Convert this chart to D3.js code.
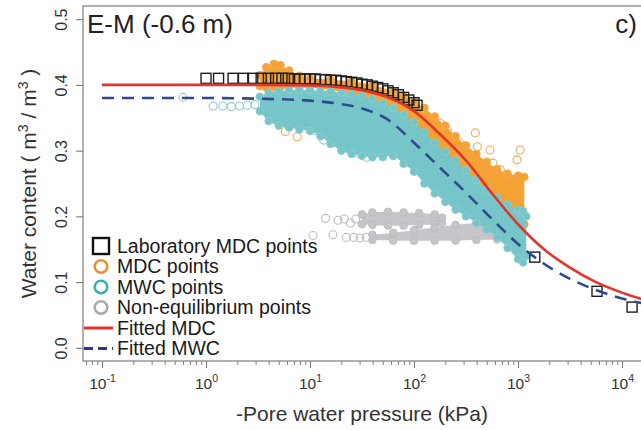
<!DOCTYPE html>
<html>
<head>
<meta charset="utf-8">
<script src="https://cdn.jsdelivr.net/npm/d3@7"></script>
<style>
  body { margin: 0; background: #fff; }
  text { font-family: "Liberation Sans", Arial, Helvetica, sans-serif; fill: #1a1a1a; }
</style>
</head>
<body>
<svg id="chart" width="641" height="430"></svg>
<script>
// ---- axis ticks ----
const pressureMajorTicks = [0.1, 1, 10, 100, 1000, 10000];
const thetaTicks = [0.0, 0.1, 0.2, 0.3, 0.4, 0.5];
const thetaTickLabels = ["0.0", "0.1", "0.2", "0.3", "0.4", "0.5"];

// ---- laboratory MDC points (kPa, m3/m3) ----
const labPressure = [1.0, 1.32, 1.82, 2.29, 2.82, 3.39, 3.98, 4.68, 5.37, 6.17, 7.08, 7.94, 8.91, 10, 11.2, 12.6, 14.1, 15.8, 17.8, 20, 22.4, 25.1, 28.2, 31.6, 35.5, 39.8, 44.7, 50.1, 56.2, 63.1, 70.8, 79.4, 89.1, 100, 107, 1450, 5750, 12500];
const labTheta = [0.410, 0.410, 0.410, 0.410, 0.410, 0.410, 0.410, 0.410, 0.410, 0.410, 0.409, 0.409, 0.409, 0.409, 0.409, 0.408, 0.408, 0.407, 0.407, 0.406, 0.405, 0.404, 0.403, 0.401, 0.400, 0.398, 0.396, 0.394, 0.391, 0.388, 0.385, 0.381, 0.377, 0.373, 0.369, 0.138, 0.086, 0.062];

// ---- MDC points: dense core (pressure, lower, upper) and scattered points ----
const mdcCorePressure = [3.3, 3.8, 4.5, 5.2, 6.3, 7.9, 10, 15.8, 25.1, 39.8, 63.1, 79.4, 100, 126, 158, 200, 251, 316, 398, 501, 631, 794, 1000, 1150];
const mdcCoreLow = [0.398, 0.396, 0.396, 0.396, 0.396, 0.396, 0.396, 0.392, 0.386, 0.376, 0.360, 0.350, 0.338, 0.322, 0.305, 0.290, 0.272, 0.255, 0.238, 0.222, 0.210, 0.198, 0.190, 0.188];
const mdcCoreHigh = [0.415, 0.427, 0.432, 0.430, 0.422, 0.414, 0.410, 0.408, 0.405, 0.400, 0.390, 0.383, 0.375, 0.365, 0.352, 0.338, 0.322, 0.308, 0.295, 0.283, 0.272, 0.265, 0.262, 0.260];
const mdcScatterPressure = [5.8, 7.5, 178, 209, 275, 389, 407, 372, 537, 575, 676, 776, 977, 1047, 427, 501, 631, 1100];
const mdcScatterTheta = [0.329, 0.321, 0.342, 0.331, 0.312, 0.327, 0.306, 0.290, 0.301, 0.281, 0.271, 0.260, 0.286, 0.301, 0.275, 0.255, 0.245, 0.134];

// ---- MWC points: dense core and scattered points ----
const mwcCorePressure = [3.3, 4.0, 5.0, 6.3, 7.9, 10, 12.6, 15.8, 20, 25.1, 31.6, 39.8, 50.1, 63.1, 79.4, 100, 126, 158, 200, 251, 316, 398, 501, 631, 794, 1000, 1122, 1202];
const mwcCoreLow = [0.360, 0.345, 0.338, 0.335, 0.332, 0.330, 0.322, 0.310, 0.300, 0.295, 0.292, 0.290, 0.290, 0.292, 0.280, 0.268, 0.250, 0.235, 0.222, 0.210, 0.200, 0.190, 0.180, 0.168, 0.152, 0.135, 0.130, 0.140];
const mwcCoreHigh = [0.382, 0.388, 0.390, 0.392, 0.392, 0.392, 0.391, 0.390, 0.388, 0.386, 0.383, 0.378, 0.372, 0.365, 0.355, 0.343, 0.328, 0.312, 0.298, 0.285, 0.270, 0.255, 0.240, 0.228, 0.218, 0.210, 0.208, 0.200];
const mwcScatterPressure = [0.6, 1.17, 1.45, 1.75, 2.1, 2.5, 2.95, 11.2, 13.5, 16, 19.5, 24, 29, 35];
const mwcScatterTheta = [0.381, 0.368, 0.368, 0.367, 0.368, 0.369, 0.370, 0.330, 0.316, 0.312, 0.318, 0.309, 0.296, 0.290];

// ---- non-equilibrium points: two dense streaks and scattered points ----
const neqUpperPressure = [31.6, 39.8, 56.2, 79.4, 112, 158, 186];
const neqUpperLow = [0.188, 0.187, 0.186, 0.186, 0.187, 0.188, 0.190];
const neqUpperHigh = [0.203, 0.206, 0.207, 0.206, 0.205, 0.203, 0.198];
const neqLowerPressure = [39.8, 63.1, 100, 158, 251, 398, 631, 933];
const neqLowerLow = [0.164, 0.163, 0.163, 0.163, 0.163, 0.164, 0.165, 0.166];
const neqLowerHigh = [0.172, 0.175, 0.179, 0.183, 0.187, 0.190, 0.190, 0.190];
const neqScatterPressure = [10.7, 16.6, 14.1, 18.6, 21.4, 24.5, 27.5, 22.4, 26.3, 30.2, 34.7];
const neqScatterTheta = [0.171, 0.172, 0.197, 0.194, 0.196, 0.190, 0.196, 0.168, 0.168, 0.167, 0.168];

// ---- fitted curves ----
const fittedMdcPressure = [0.1, 1, 3.16, 10, 17.8, 31.6, 56.2, 100, 178, 316, 562, 1000, 1778, 3162, 5623, 10000, 20000];
const fittedMdcTheta = [0.400, 0.400, 0.400, 0.399, 0.397, 0.392, 0.381, 0.360, 0.325, 0.285, 0.235, 0.188, 0.150, 0.122, 0.100, 0.084, 0.069];
const fittedMwcPressure = [0.1, 1, 3.16, 10, 17.8, 31.6, 56.2, 100, 178, 316, 562, 1000, 1778, 3162, 5623, 10000, 20000];
const fittedMwcTheta = [0.380, 0.380, 0.379, 0.376, 0.372, 0.364, 0.347, 0.312, 0.274, 0.236, 0.196, 0.158, 0.128, 0.105, 0.088, 0.075, 0.065];

// ---- legend ----
const legendLabels = ["Laboratory MDC points", "MDC points", "MWC points", "Non-equilibrium points", "Fitted MDC", "Fitted MWC"];

// ---- layout ----
const plot = { left: 83, right: 643, top: 6, bottom: 361 };

const colors = {
  orange: "#F4A233", orangeLine: "#F3AA55", orangeKey: "#EE8E2B",
  teal: "#76C5C8", tealLine: "#8CCDD0", tealKey: "#38B1B4",
  gray: "#C6C6CA", grayLine: "#BDBDC2", grayKey: "#A8A8AE",
  red: "#E2352B", blue: "#2F4A8D", navy: "#2B3A8A",
  frame: "#7d7d7d"
};

const svg = d3.select("#chart");

const x = d3.scaleLog()
  .domain([Math.pow(10, -1.183), Math.pow(10, 4.202)])
  .range([plot.left, plot.right]);
const y = d3.scaleLinear()
  .domain([-0.02, 0.52])
  .range([plot.bottom, plot.top]);

svg.append("defs").append("clipPath").attr("id", "plotClip")
  .append("rect")
  .attr("x", plot.left).attr("y", plot.top)
  .attr("width", plot.right - plot.left).attr("height", plot.bottom - plot.top);

const g = svg.append("g").attr("clip-path", "url(#plotClip)");

// dense clouds drawn as filled bands with ringed edges
function drawCloud(pressure, low, high, fill, ring) {
  const rows = pressure.map((p, i) => ({ p, lo: low[i], hi: high[i] }));
  const area = d3.area()
    .x(d => x(d.p)).y0(d => y(d.lo)).y1(d => y(d.hi))
    .curve(d3.curveCatmullRom);
  g.append("path").datum(rows).attr("d", area).attr("fill", fill);
  const edge = rows.flatMap(d => [{ p: d.p, t: d.lo }, { p: d.p, t: d.hi }]);
  g.append("g").selectAll("circle").data(edge).join("circle")
    .attr("cx", d => x(d.p)).attr("cy", d => y(d.t)).attr("r", 3.8)
    .attr("fill", fill).attr("stroke", ring).attr("stroke-width", 1);
}

function drawRings(pressure, theta, ring) {
  g.append("g").selectAll("circle").data(pressure.map((p, i) => ({ p, t: theta[i] })))
    .join("circle")
    .attr("cx", d => x(d.p)).attr("cy", d => y(d.t)).attr("r", 4)
    .attr("fill", "none").attr("stroke", ring).attr("stroke-width", 1.1);
}

// non-equilibrium
drawRings(neqScatterPressure, neqScatterTheta, colors.grayLine);
drawCloud(neqUpperPressure, neqUpperLow, neqUpperHigh, colors.gray, colors.grayLine);
drawCloud(neqLowerPressure, neqLowerLow, neqLowerHigh, colors.gray, colors.grayLine);
// MDC
drawRings(mdcScatterPressure, mdcScatterTheta, colors.orangeLine);
drawCloud(mdcCorePressure, mdcCoreLow, mdcCoreHigh, colors.orange, colors.orangeLine);
// MWC
drawRings(mwcScatterPressure, mwcScatterTheta, colors.tealLine);
drawCloud(mwcCorePressure, mwcCoreLow, mwcCoreHigh, colors.teal, colors.tealLine);

// laboratory squares
const sq = 10;
g.append("g").selectAll("rect").data(labPressure.map((p, i) => ({ p, t: labTheta[i] })))
  .join("rect")
  .attr("x", d => x(d.p) - sq / 2).attr("y", d => y(d.t) - sq / 2)
  .attr("width", sq).attr("height", sq)
  .attr("fill", "none").attr("stroke", "#1e1e1e").attr("stroke-width", 1.4);

// fitted curves
const line = d3.line().x(d => x(d.p)).y(d => y(d.t)).curve(d3.curveMonotoneX);
g.append("path")
  .datum(fittedMwcPressure.map((p, i) => ({ p, t: fittedMwcTheta[i] })))
  .attr("d", line).attr("fill", "none")
  .attr("stroke", colors.blue).attr("stroke-width", 2.6).attr("stroke-dasharray", "12,8");
g.append("path")
  .datum(fittedMdcPressure.map((p, i) => ({ p, t: fittedMdcTheta[i] })))
  .attr("d", line).attr("fill", "none")
  .attr("stroke", colors.red).attr("stroke-width", 2.6);

// frame
svg.append("rect")
  .attr("x", plot.left).attr("y", plot.top)
  .attr("width", plot.right - plot.left + 10).attr("height", plot.bottom - plot.top)
  .attr("fill", "none").attr("stroke", colors.frame).attr("stroke-width", 1.2);

// y axis
const yAxis = svg.append("g").attr("transform", `translate(${plot.left},0)`)
  .call(d3.axisLeft(y).tickValues(thetaTicks).tickSize(7).tickFormat((d, i) => thetaTickLabels[i]));
yAxis.select(".domain").remove();
yAxis.selectAll(".tick line").attr("stroke", colors.frame).attr("stroke-width", 1.1);
yAxis.selectAll(".tick text")
  .attr("x", null).attr("dy", null)
  .attr("text-anchor", "middle")
  .attr("transform", "translate(-16,0) rotate(-90)")
  .style("font-size", "16px").style("fill", "#333");

// x axis: decades and minor ticks
const minorTicks = [];
for (let e = -2; e <= 4; e++) {
  for (let m = 2; m <= 9; m++) {
    const v = m * Math.pow(10, e);
    if (v >= x.domain()[0] && v <= x.domain()[1]) minorTicks.push(v);
  }
}
const xMinor = svg.append("g").attr("transform", `translate(0,${plot.bottom})`)
  .call(d3.axisBottom(x).tickValues(minorTicks).tickSize(4).tickFormat(""));
xMinor.select(".domain").remove();
xMinor.selectAll(".tick line").attr("stroke", colors.frame).attr("stroke-width", 1);

const xAxis = svg.append("g").attr("transform", `translate(0,${plot.bottom})`)
  .call(d3.axisBottom(x).tickValues(pressureMajorTicks).tickSize(7).tickFormat(""));
xAxis.select(".domain").remove();
xAxis.selectAll(".tick line").attr("stroke", colors.frame).attr("stroke-width", 1.1);
xAxis.selectAll(".tick").each(function (d) {
  const t = d3.select(this).append("text")
    .attr("y", 28).attr("text-anchor", "middle")
    .style("font-size", "15.5px").style("fill", "#333");
  t.append("tspan").text("10");
  t.append("tspan").attr("dy", -7).style("font-size", "10.5px").text(String(Math.round(Math.log10(d))));
});

// axis titles
svg.append("text")
  .attr("x", (plot.left + 641) / 2).attr("y", 421)
  .attr("text-anchor", "middle").style("font-size", "21px").style("fill", "#333")
  .text("-Pore water pressure (kPa)");

const yTitle = svg.append("text")
  .attr("transform", `translate(36,${(plot.top + plot.bottom) / 2}) rotate(-90)`)
  .attr("text-anchor", "middle").style("font-size", "21px").style("fill", "#333");
yTitle.append("tspan").text("Water content ( m");
yTitle.append("tspan").attr("dy", -8).style("font-size", "14px").text("3");
yTitle.append("tspan").attr("dy", 8).text(" / m");
yTitle.append("tspan").attr("dy", -8).style("font-size", "14px").text("3");
yTitle.append("tspan").attr("dy", 8).text(" )");

// panel titles
svg.append("text").attr("x", 87).attr("y", 33)
  .style("font-size", "26px").style("fill", "#222").text("E-M (-0.6 m)");
svg.append("text").attr("x", 637).attr("y", 33).attr("text-anchor", "end")
  .style("font-size", "26px").style("fill", "#222").text("c)");

// legend
const legend = svg.append("g");
const rowY = i => 246 + i * 20.5;
const keyX = 101;
legend.append("rect").attr("x", keyX - 8).attr("y", rowY(0) - 8).attr("width", 16).attr("height", 16)
  .attr("fill", "none").attr("stroke", "#111").attr("stroke-width", 2.4);
[colors.orangeKey, colors.tealKey, colors.grayKey].forEach((c, k) => {
  legend.append("circle").attr("cx", keyX).attr("cy", rowY(k + 1)).attr("r", 6.3)
    .attr("fill", "none").attr("stroke", c).attr("stroke-width", 2.6);
});
legend.append("line").attr("x1", 84).attr("x2", 113).attr("y1", rowY(4)).attr("y2", rowY(4))
  .attr("stroke", colors.red).attr("stroke-width", 3);
legend.append("line").attr("x1", 84).attr("x2", 113).attr("y1", rowY(5)).attr("y2", rowY(5))
  .attr("stroke", colors.navy).attr("stroke-width", 3).attr("stroke-dasharray", "9,5");
legend.selectAll("text.lab").data(legendLabels).join("text")
  .attr("class", "lab")
  .attr("x", 117).attr("y", (d, i) => rowY(i)).attr("dy", "0.35em")
  .style("font-size", "19.5px").style("fill", "#1a1a1a")
  .text(d => d);
</script>
</body>
</html>
